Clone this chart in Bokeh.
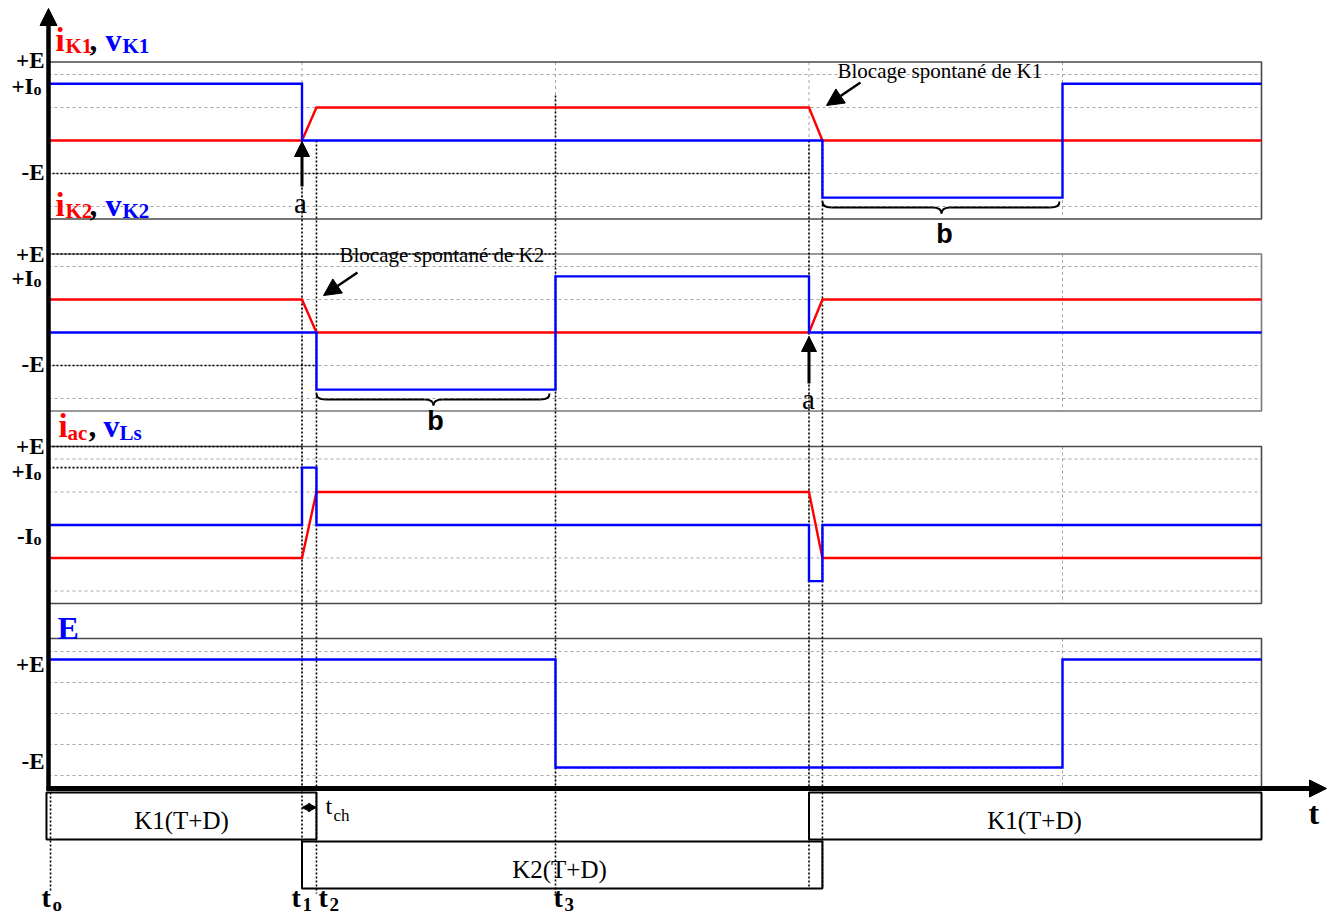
from bokeh.plotting import figure
from bokeh.models import Range1d, Arrow, NormalHead
from bokeh.core.properties import value
from bokeh.embed import file_html
from bokeh.resources import INLINE

# ---------------- data : time in grid divisions, signal values in grid divisions ----------------
T0, T1, T2, T3, T4, T5, T6, TEND = 0.0, 1.0, 1.057, 2.0, 3.0, 3.053, 4.0, 4.785

iK1_t = [T0, T1, T2, T4, T5, TEND]
iK1_v = [0, 0, 1, 1, 0, 0]
vK1_t = [T0, T1, T1, T5, T5, T6, T6, TEND]
vK1_v = [1.72, 1.72, 0, 0, -1.73, -1.73, 1.72, 1.72]

iK2_t = [T0, T1, T2, T4, T5, TEND]
iK2_v = [1, 1, 0, 0, 1, 1]
vK2_t = [T0, T2, T2, T3, T3, T4, T4, TEND]
vK2_v = [0, 0, -1.73, -1.73, 1.70, 1.70, 0, 0]

iac_t = [T0, T1, T2, T4, T5, TEND]
iac_v = [-1, -1, 1, 1, -1, -1]
vLs_t = [T0, T1, T1, T2, T2, T4, T4, T5, T5, TEND]
vLs_v = [0, 0, 1.74, 1.74, 0, 0, -1.70, -1.70, 0, 0]

E_t = [T0, T3, T3, T6, T6, TEND]
E_v = [1.74, 1.74, -1.74, -1.74, 1.74, 1.74]

grid_t = [1, 2, 3, 4]
grid_k = [-2, -1, 0, 1, 2]

K1_on = [(T0, T2), (T4, TEND)]
K2_on = [(T1, T5)]

# ---------------- layout ----------------
W, H = 1331, 919
PX0, PXU = 48.0, 253.5          # page x of t=0 and px per time division


def X(px):
    return (px - PX0) / PXU


ZERO = [140, 332, 524.5, 713]
DIV = [33, 33, 33, 31]
HALF = [78.5, 78.5, 78.5, 75]


def Y(k, vals):
    return [ZERO[k] - DIV[k] * v for v in vals]


RED, BLUE = "#ff0000", "#0000ff"
SERIF = value("Liberation Serif")
SANS = value("Liberation Sans")

p = figure(width=W, height=H, x_range=Range1d(X(0), X(W)), y_range=Range1d(H, 0),
           output_backend="svg", toolbar_location=None, min_border=0,
           x_axis_type=None, y_axis_type=None)
p.outline_line_color = None
p.background_fill_color = "white"

border_col = ["#4a4a4a", "#7a7a7a", "#4a4a4a", "#4a4a4a"]
for k in range(4):
    top, bot = ZERO[k] - HALF[k], ZERO[k] + HALF[k]
    p.multi_line([[T0, TEND] for _ in grid_k], [[ZERO[k] - g * DIV[k]] * 2 for g in grid_k],
                 line_color="#a6a6a6", line_dash="3 3", line_width=1)
    p.multi_line([[g, g] for g in grid_t], [[top, bot] for _ in grid_t],
                 line_color="#a6a6a6", line_dash="3 3", line_width=1)
    p.quad(left=[T0], right=[TEND], top=[top], bottom=[bot], fill_color=None,
           line_color=border_col[k], line_width=1.6)

# black dotted reference levels (panel, level in div, t start, t end)
ref_levels = [(0, -1.0, T0, T4), (1, HALF[1] / DIV[1], T0, T3), (1, -1.0, T0, T2),
              (2, HALF[2] / DIV[2], T0, T1), (2, 1.74, T0, T1)]
for k, lv, a, b in ref_levels:
    p.line([a, b], Y(k, [lv, lv]), line_color="black", line_dash="2 2", line_width=1.6)

# black dotted time markers (t, page y top, page y bottom)
markers = [(0.008, 792, 892), (T1, 139, 888), (T2, 140, 893), (T3, 95, 893), (T4, 140, 888), (T5, 140, 888)]
for t, ya, yb in markers:
    p.line([t, t], [ya, yb], line_color="black", line_dash="2 2", line_width=1.6)

# signals
for k, (it, iv, vt, vv) in enumerate([(iK1_t, iK1_v, vK1_t, vK1_v), (iK2_t, iK2_v, vK2_t, vK2_v),
                                      (iac_t, iac_v, vLs_t, vLs_v)]):
    p.line(it, Y(k, iv), line_color=RED, line_width=2.4, line_join="miter")
    p.line(vt, Y(k, vv), line_color=BLUE, line_width=2.4, line_join="miter")
p.line(E_t, Y(3, E_v), line_color=BLUE, line_width=2.4, line_join="miter")

# conduction boxes
for (a, b) in K1_on:
    p.quad(left=[a - 0.008 if a == T0 else a], right=[b], top=[792], bottom=[839],
           fill_color=None, line_color="black", line_width=2)
for (a, b) in K2_on:
    p.quad(left=[a], right=[b], top=[841], bottom=[888], fill_color=None, line_color="black", line_width=2)


def arrow(x0, y0, x1, y1, lw, size):
    p.add_layout(Arrow(end=NormalHead(size=size, fill_color="black", line_color="black", line_width=1),
                       x_start=x0, y_start=y0, x_end=x1, y_end=y1, line_width=lw, line_color="black"))


# axes
arrow(T0, 790, T0, 8, 4.5, 17)
arrow(X(46), 788, X(1326), 788, 5, 17)
# 'a' arrows
arrow(T1, 186, T1, 141, 3, 15)
arrow(T4, 383, T4, 336, 3, 15)
# blocage arrows
arrow(X(860), 82, X(826), 105, 2.5, 17)
arrow(X(357), 272, X(323), 295, 2.5, 17)
# t_ch double arrow
p.add_layout(Arrow(start=NormalHead(size=8, fill_color="black", line_color="black"),
                   end=NormalHead(size=8, fill_color="black", line_color="black"),
                   x_start=T1, y_start=807, x_end=T2, y_end=807, line_width=2))


# braces
def brace(xa, xb, xc, ye, ym, yt, r=9):
    rr = r / PXU
    p.quadratic(x0=[xa, xc - rr, xc, xb - rr], y0=[ye, ym, yt, ym],
                x1=[xa + rr, xc, xc + rr, xb], y1=[ym, yt, ym, ye],
                cx=[xa, xc, xc, xb], cy=[ym, ym, ym, ym], line_color="black", line_width=2)
    p.multi_line([[xa + rr, xc - rr], [xc + rr, xb - rr]], [[ym, ym], [ym, ym]], line_color="black", line_width=2)


brace(T5, X(1059), X(941), 201, 207, 213)
brace(T2, X(549), X(433), 393, 399, 405)


def txt(px, base, s, size, color="black", font=SERIF, style="bold", align="left"):
    # 'base' is the wanted baseline; placed through the text's middle
    p.text(x=[X(px)], y=[base - 0.32 * size], text=[s], text_font=font, text_font_size=f"{size}px",
           text_font_style=style, text_color=color, text_align=align, text_baseline="middle")


def ctxt(px, mid, s, size, color="black", font=SERIF, style="bold", align="center"):
    p.text(x=[X(px)], y=[mid], text=[s], text_font=font, text_font_size=f"{size}px",
           text_font_style=style, text_color=color, text_align=align, text_baseline="middle")


# panel titles
for base, sub in [(50, "K1"), (215, "K2")]:
    txt(55, base, "i", 33, RED)
    txt(65, base + 2, sub, 21, RED)
    txt(89, base, ",", 31)
    txt(105, base, "v", 32, BLUE)
    txt(122, base + 2, sub, 21, BLUE)
txt(58, 436, "i", 33, RED)
txt(67, 439, "ac", 21, RED)
txt(88, 436, ",", 31)
txt(103, 436, "v", 32, BLUE)
txt(119, 439, "Ls", 21, BLUE)
txt(57, 638, "E", 32, BLUE)

# level labels
levels = [("+E", "", 60), ("+I", "o", 86), ("-E", "", 172),
          ("+E", "", 254), ("+I", "o", 278), ("-E", "", 364),
          ("+E", "", 446), ("+I", "o", 471), ("-I", "o", 536),
          ("+E", "", 664), ("-E", "", 761)]
for s, sub, ym in levels:
    if sub:
        ctxt(33, ym, s, 23, align="right")
        ctxt(33, ym + 3, sub, 16, align="left")
    else:
        ctxt(44, ym, s, 23, align="right")

# annotations
txt(837, 77, "Blocage spontané de K1", 21, style="normal")
txt(339, 261, "Blocage spontané de K2", 21, style="normal")
ctxt(300, 202, "a", 29, style="normal")
ctxt(808, 398, "a", 29, style="normal")
ctxt(944, 233, "b", 27, font=SANS)
ctxt(435, 420, "b", 27, font=SANS)

ctxt(181, 820, "K1(T+D)", 25, style="normal")
ctxt(1034, 820, "K1(T+D)", 25, style="normal")
ctxt(559, 869, "K2(T+D)", 25, style="normal")
txt(325, 813, "t", 24, style="normal")
txt(333, 820, "ch", 17, style="normal")

for px, sub in [(41, "o"), (291, "1"), (318, "2"), (553, "3")]:
    txt(px, 906, "t", 28)
    txt(px + 11, 910, sub, 19)
txt(1308, 823, "t", 32)

open("out.html", "w").write(file_html(p, INLINE))
